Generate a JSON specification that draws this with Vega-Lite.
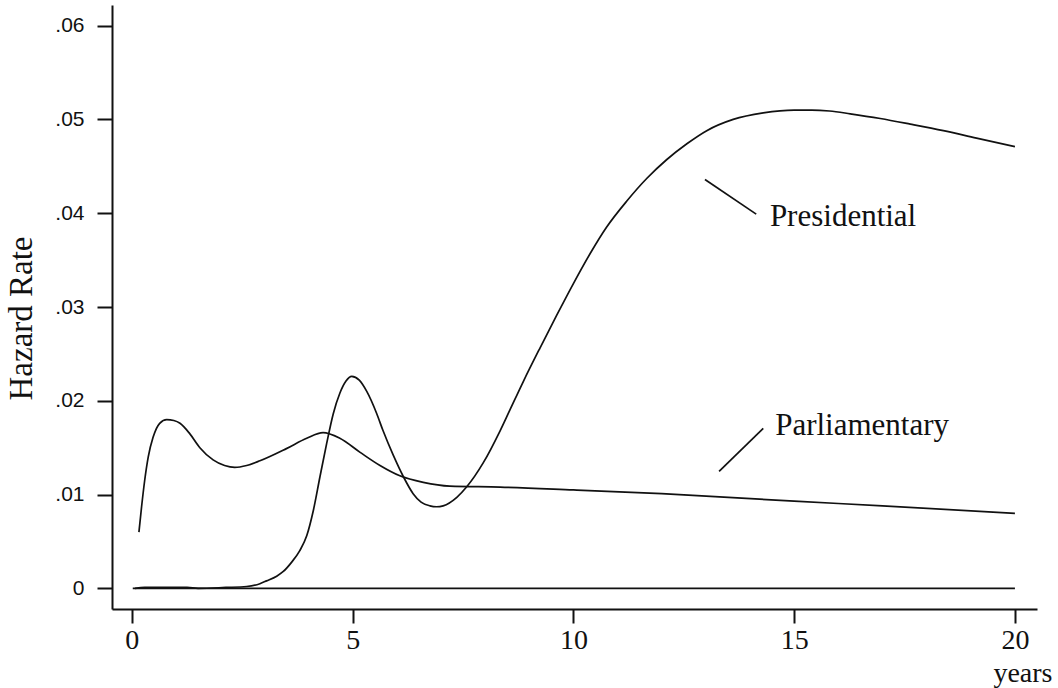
{
  "$schema": "https://vega.github.io/schema/vega-lite/v6.json",
  "width": 925,
  "height": 604,
  "autosize": {"type": "none"},
  "padding": {"left": 112, "top": 5, "right": 21, "bottom": 79},
  "background": "white",
  "config": {
    "view": {"stroke": null},
    "axis": {"grid": false, "domainColor": "#111", "domainWidth": 2, "tickColor": "#111", "tickWidth": 2, "labelColor": "#111", "titleColor": "#111", "titleFontWeight": "normal"}
  },
  "datasets": {
    "curves": [
      {"series": "Parliamentary", "t": 0.16, "h": 0.0060},
      {"series": "Parliamentary", "t": 0.22, "h": 0.0087},
      {"series": "Parliamentary", "t": 0.29, "h": 0.0115},
      {"series": "Parliamentary", "t": 0.37, "h": 0.0140},
      {"series": "Parliamentary", "t": 0.48, "h": 0.0161},
      {"series": "Parliamentary", "t": 0.63, "h": 0.0176},
      {"series": "Parliamentary", "t": 0.79, "h": 0.0180},
      {"series": "Parliamentary", "t": 0.95, "h": 0.0179},
      {"series": "Parliamentary", "t": 1.09, "h": 0.0176},
      {"series": "Parliamentary", "t": 1.31, "h": 0.0165},
      {"series": "Parliamentary", "t": 1.54, "h": 0.0150},
      {"series": "Parliamentary", "t": 1.84, "h": 0.0137},
      {"series": "Parliamentary", "t": 2.10, "h": 0.0131},
      {"series": "Parliamentary", "t": 2.33, "h": 0.0129},
      {"series": "Parliamentary", "t": 2.60, "h": 0.0131},
      {"series": "Parliamentary", "t": 2.90, "h": 0.0136},
      {"series": "Parliamentary", "t": 3.50, "h": 0.0149},
      {"series": "Parliamentary", "t": 3.96, "h": 0.0160},
      {"series": "Parliamentary", "t": 4.33, "h": 0.0166},
      {"series": "Parliamentary", "t": 4.71, "h": 0.0160},
      {"series": "Parliamentary", "t": 5.17, "h": 0.0145},
      {"series": "Parliamentary", "t": 5.62, "h": 0.0131},
      {"series": "Parliamentary", "t": 6.07, "h": 0.0120},
      {"series": "Parliamentary", "t": 6.60, "h": 0.0113},
      {"series": "Parliamentary", "t": 7.20, "h": 0.0109},
      {"series": "Parliamentary", "t": 8.34, "h": 0.0108},
      {"series": "Parliamentary", "t": 10.0, "h": 0.0105},
      {"series": "Parliamentary", "t": 12.0, "h": 0.0101},
      {"series": "Parliamentary", "t": 15.0, "h": 0.0093},
      {"series": "Parliamentary", "t": 17.0, "h": 0.0088},
      {"series": "Parliamentary", "t": 20.0, "h": 0.0080},
      {"series": "Presidential", "t": 0.07, "h": 0.0},
      {"series": "Presidential", "t": 0.29, "h": 0.0001},
      {"series": "Presidential", "t": 1.25, "h": 0.0001},
      {"series": "Presidential", "t": 1.5, "h": 0.0},
      {"series": "Presidential", "t": 2.13, "h": 0.0001},
      {"series": "Presidential", "t": 2.6, "h": 0.0002},
      {"series": "Presidential", "t": 2.9, "h": 0.0005},
      {"series": "Presidential", "t": 3.05, "h": 0.0008},
      {"series": "Presidential", "t": 3.28, "h": 0.0013},
      {"series": "Presidential", "t": 3.43, "h": 0.0018},
      {"series": "Presidential", "t": 3.62, "h": 0.0028},
      {"series": "Presidential", "t": 3.80, "h": 0.0040},
      {"series": "Presidential", "t": 3.96, "h": 0.0056},
      {"series": "Presidential", "t": 4.11, "h": 0.0083},
      {"series": "Presidential", "t": 4.26, "h": 0.0119},
      {"series": "Presidential", "t": 4.41, "h": 0.0154},
      {"series": "Presidential", "t": 4.56, "h": 0.0186},
      {"series": "Presidential", "t": 4.71, "h": 0.0208},
      {"series": "Presidential", "t": 4.85, "h": 0.0221},
      {"series": "Presidential", "t": 4.98, "h": 0.0226},
      {"series": "Presidential", "t": 5.15, "h": 0.0222},
      {"series": "Presidential", "t": 5.32, "h": 0.0210},
      {"series": "Presidential", "t": 5.54, "h": 0.0187},
      {"series": "Presidential", "t": 5.69, "h": 0.0168},
      {"series": "Presidential", "t": 5.92, "h": 0.0142},
      {"series": "Presidential", "t": 6.15, "h": 0.0119},
      {"series": "Presidential", "t": 6.37, "h": 0.0101},
      {"series": "Presidential", "t": 6.55, "h": 0.0092},
      {"series": "Presidential", "t": 6.75, "h": 0.0088},
      {"series": "Presidential", "t": 6.9, "h": 0.0087},
      {"series": "Presidential", "t": 7.05, "h": 0.0088},
      {"series": "Presidential", "t": 7.36, "h": 0.0097},
      {"series": "Presidential", "t": 7.58, "h": 0.0108},
      {"series": "Presidential", "t": 7.96, "h": 0.0134},
      {"series": "Presidential", "t": 8.34, "h": 0.0168},
      {"series": "Presidential", "t": 8.56, "h": 0.0190},
      {"series": "Presidential", "t": 8.86, "h": 0.0220},
      {"series": "Presidential", "t": 9.24, "h": 0.0256},
      {"series": "Presidential", "t": 9.62, "h": 0.0291},
      {"series": "Presidential", "t": 10.0, "h": 0.0325},
      {"series": "Presidential", "t": 10.38, "h": 0.0357},
      {"series": "Presidential", "t": 10.75, "h": 0.0385},
      {"series": "Presidential", "t": 11.21, "h": 0.0413},
      {"series": "Presidential", "t": 11.66, "h": 0.0437},
      {"series": "Presidential", "t": 12.11, "h": 0.0457},
      {"series": "Presidential", "t": 12.57, "h": 0.0474},
      {"series": "Presidential", "t": 13.02, "h": 0.0488},
      {"series": "Presidential", "t": 13.62, "h": 0.0500},
      {"series": "Presidential", "t": 14.30, "h": 0.0507},
      {"series": "Presidential", "t": 15.0, "h": 0.0510},
      {"series": "Presidential", "t": 15.4, "h": 0.0510},
      {"series": "Presidential", "t": 15.8, "h": 0.0509},
      {"series": "Presidential", "t": 16.27, "h": 0.0506},
      {"series": "Presidential", "t": 16.95, "h": 0.0501},
      {"series": "Presidential", "t": 17.63, "h": 0.0495},
      {"series": "Presidential", "t": 18.38, "h": 0.0488},
      {"series": "Presidential", "t": 19.13, "h": 0.0480},
      {"series": "Presidential", "t": 20.0, "h": 0.0471}
    ],
    "rules": [
      {"name": "baseline", "t": 0.02, "h": 0, "t2": 20, "h2": 0},
      {"name": "pres", "t": 12.98, "h": 0.0436, "t2": 14.14, "h2": 0.0399},
      {"name": "parl", "t": 13.30, "h": 0.01247, "t2": 14.30, "h2": 0.01706}
    ],
    "labels": [
      {"label": "Presidential", "t": 14.45, "h": 0.0386},
      {"label": "Parliamentary", "t": 14.57, "h": 0.01631}
    ]
  },
  "layer": [
    {
      "data": {"name": "curves"},
      "mark": {"type": "line", "interpolate": "monotone", "color": "#111", "strokeWidth": 1.7},
      "encoding": {
        "x": {
          "field": "t", "type": "quantitative",
          "scale": {"domain": [-0.45, 20.5], "nice": false, "zero": false},
          "axis": {
            "values": [0, 5, 10, 15, 20], "format": "d", "tickSize": 14,
            "labelFont": "Liberation Serif", "labelFontSize": 28, "labelPadding": 3,
            "title": "years", "titleFont": "Liberation Serif", "titleFontSize": 28,
            "titleAnchor": "end", "titleAlign": "right", "titleX": 940, "titleY": 72, "titleBaseline": "alphabetic"
          }
        },
        "y": {
          "field": "h", "type": "quantitative",
          "scale": {"domain": [-0.0022, 0.0622], "nice": false, "zero": false},
          "axis": {
            "values": [0, 0.01, 0.02, 0.03, 0.04, 0.05, 0.06], "tickSize": 15,
            "labelExpr": "datum.value == 0 ? '0' : replace(format(datum.value, '.2f'), '0.', '.')",
            "labelFont": "Liberation Sans", "labelFontSize": 21, "labelPadding": 13,
            "title": "Hazard Rate", "titleFont": "Liberation Serif", "titleFontSize": 33,
            "titleX": -81, "titleY": 313, "titleBaseline": "alphabetic", "titleAlign": "center", "titleAngle": -90
          }
        },
        "detail": {"field": "series", "type": "nominal"}
      }
    },
    {
      "data": {"name": "rules"},
      "mark": {"type": "rule", "color": "#111", "strokeWidth": 1.7},
      "encoding": {
        "x": {"field": "t", "type": "quantitative"},
        "y": {"field": "h", "type": "quantitative"},
        "x2": {"field": "t2"},
        "y2": {"field": "h2"}
      }
    },
    {
      "data": {"name": "labels"},
      "mark": {"type": "text", "align": "left", "baseline": "alphabetic", "font": "Liberation Serif", "fontSize": 31, "color": "#111"},
      "encoding": {
        "x": {"field": "t", "type": "quantitative"},
        "y": {"field": "h", "type": "quantitative"},
        "text": {"field": "label", "type": "nominal"}
      }
    }
  ]
}
